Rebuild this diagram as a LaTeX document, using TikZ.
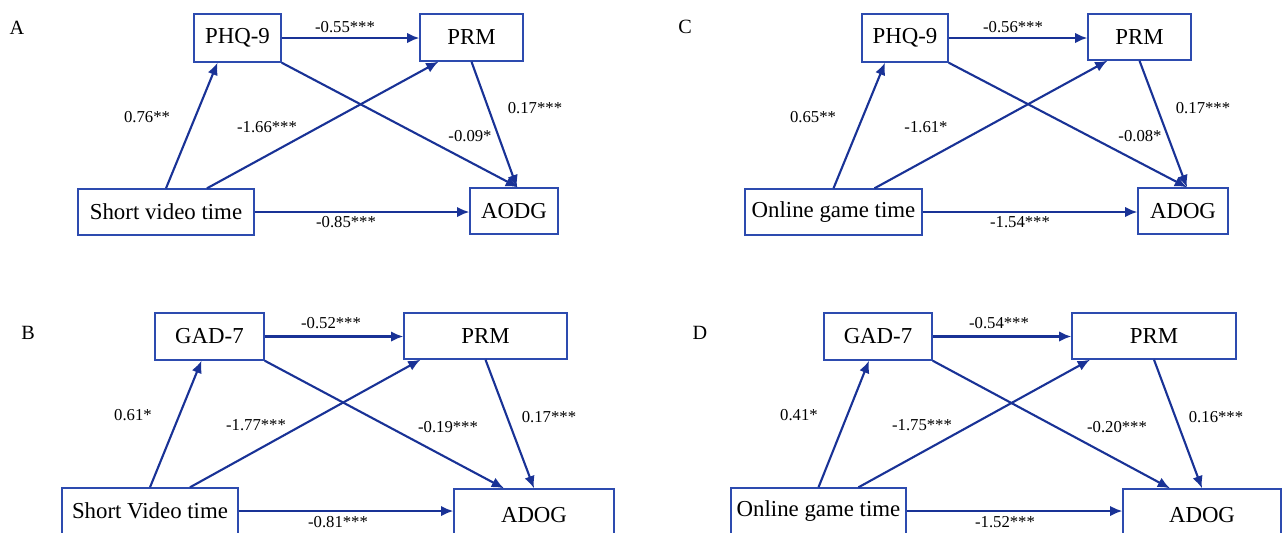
\documentclass[tikz,border=0pt]{standalone}
\usepackage{fontspec}
\setmainfont{Liberation Serif}
\usetikzlibrary{arrows.meta,calc}

\definecolor{boxblue}{RGB}{45,75,175}
\definecolor{arrblue}{RGB}{25,50,150}

\begin{document}
\begin{tikzpicture}[
  x=0.02cm,
  y=-0.02cm,
  box/.style 2 args={
    draw=boxblue,
    line width=0.8pt,
    inner sep=0pt,
    minimum width=#1*0.02cm,
    minimum height=#2*0.02cm,
    font=\fontsize{13}{16}\selectfont
  },
  edge/.style={
    -{Latex[length=7pt,width=6pt]},
    draw=arrblue,
    line width=1.2pt
  },
  coef/.style={
    inner sep=1pt,
    font=\fontsize{9.5}{11}\selectfont
  },
  panel/.style={
    inner sep=0pt,
    font=\fontsize{11.5}{14}\selectfont
  }
]

\useasboundingbox (0,0) rectangle (1282,532);
\clip (0,0) rectangle (1282,532);

% panel A
\node[panel] (labA) at (17,28) {A};
\node[box={87}{48}]  (phqA)  at (237.5,38)  {PHQ-9};
\node[box={103}{47}] (prmA)  at (471.5,37.5) {PRM};
\node[box={176}{46}] (svA)   at (166,212)   {Short video time};
\node[box={88}{46}]  (aodgA) at (514,211)   {AODG};

\draw[edge] (phqA.east) -- (phqA.east -| prmA.west);
\draw[edge] (svA.north) -- ($(phqA.south)+(-20,0)$);
\draw[edge] ($(svA.north)+(41,0)$) -- ($(prmA.south)+(-33,0)$);
\draw[edge] (phqA.south east) -- ($(aodgA.north)+(4,0)$);
\draw[edge] (prmA.south) -- ($(aodgA.north)+(3,0)$);
\draw[edge] (svA.east) -- (svA.east -| aodgA.west);

\node[coef] (cA1) at (345,27)  {-0.55***};
\node[coef] (cA2) at (147,117) {0.76**};
\node[coef] (cA3) at (267,127) {-1.66***};
\node[coef] (cA4) at (470,136) {-0.09*};
\node[coef] (cA5) at (535,108) {0.17***};
\node[coef] (cA6) at (346,222) {-0.85***};

% panel C
\node[panel] (labC) at (685,27) {C};
\node[box={86}{48}]  (phqC)  at (905,38)    {PHQ-9};
\node[box={103}{46}] (prmC)  at (1139.5,37) {PRM};
\node[box={177}{46}] (ogC)   at (833.5,212) {Online game time};
\node[box={90}{46}]  (adogC) at (1183,211)  {ADOG};

\draw[edge] (phqC.east) -- (phqC.east -| prmC.west);
\draw[edge] (ogC.north) -- ($(phqC.south)+(-20,0)$);
\draw[edge] ($(ogC.north)+(41,0)$) -- ($(prmC.south)+(-32,0)$);
\draw[edge] (phqC.south east) -- ($(adogC.north)+(4,0)$);
\draw[edge] (prmC.south) -- ($(adogC.north)+(4,0)$);
\draw[edge] (ogC.east) -- (ogC.east -| adogC.west);

\node[coef] (cC1) at (1013,27)  {-0.56***};
\node[coef] (cC2) at (813,117)  {0.65**};
\node[coef] (cC3) at (926,127)  {-1.61*};
\node[coef] (cC4) at (1140,136) {-0.08*};
\node[coef] (cC5) at (1203,108) {0.17***};
\node[coef] (cC6) at (1020,222) {-1.54***};

% panel B
\node[panel] (labB) at (28,333) {B};
\node[box={109}{47}] (gadB)  at (209.5,336.5) {GAD-7};
\node[box={163}{46}] (prmB)  at (485.5,336)   {PRM};
\node[box={176}{46}] (svB)   at (150,511)     {Short Video time};
\node[box={160}{52}] (adogB) at (534,515)     {ADOG};

\draw[edge] (gadB.east) -- (gadB.east -| prmB.west);
\draw[edge] (svB.north) -- ($(gadB.south)+(-8,0)$);
\draw[edge] ($(svB.north)+(40,0)$) -- ($(prmB.south)+(-65,0)$);
\draw[edge] (gadB.south east) -- ($(adogB.north)+(-30,0)$);
\draw[edge] (prmB.south) -- (adogB.north);
\draw[edge] (svB.east) -- (svB.east -| adogB.west);

\node[coef] (cB1) at (331,323) {-0.52***};
\node[coef] (cB2) at (133,415) {0.61*};
\node[coef] (cB3) at (256,425) {-1.77***};
\node[coef] (cB4) at (448,427) {-0.19***};
\node[coef] (cB5) at (549,417) {0.17***};
\node[coef] (cB6) at (338,522) {-0.81***};

% panel D
\node[panel] (labD) at (700,333) {D};
\node[box={108}{47}] (gadD)  at (878,336.5) {GAD-7};
\node[box={164}{46}] (prmD)  at (1154,336)  {PRM};
\node[box={175}{46}] (ogD)   at (818.5,511) {Online game time};
\node[box={158}{52}] (adogD) at (1202,515)  {ADOG};

\draw[edge] (gadD.east) -- (gadD.east -| prmD.west);
\draw[edge] (ogD.north) -- ($(gadD.south)+(-9,0)$);
\draw[edge] ($(ogD.north)+(40,0)$) -- ($(prmD.south)+(-64,0)$);
\draw[edge] (gadD.south east) -- ($(adogD.north)+(-32,0)$);
\draw[edge] (prmD.south) -- (adogD.north);
\draw[edge] (ogD.east) -- (ogD.east -| adogD.west);

\node[coef] (cD1) at (999,323)  {-0.54***};
\node[coef] (cD2) at (799,415)  {0.41*};
\node[coef] (cD3) at (922,425)  {-1.75***};
\node[coef] (cD4) at (1117,427) {-0.20***};
\node[coef] (cD5) at (1216,417) {0.16***};
\node[coef] (cD6) at (1005,522) {-1.52***};

\end{tikzpicture}
\end{document}
